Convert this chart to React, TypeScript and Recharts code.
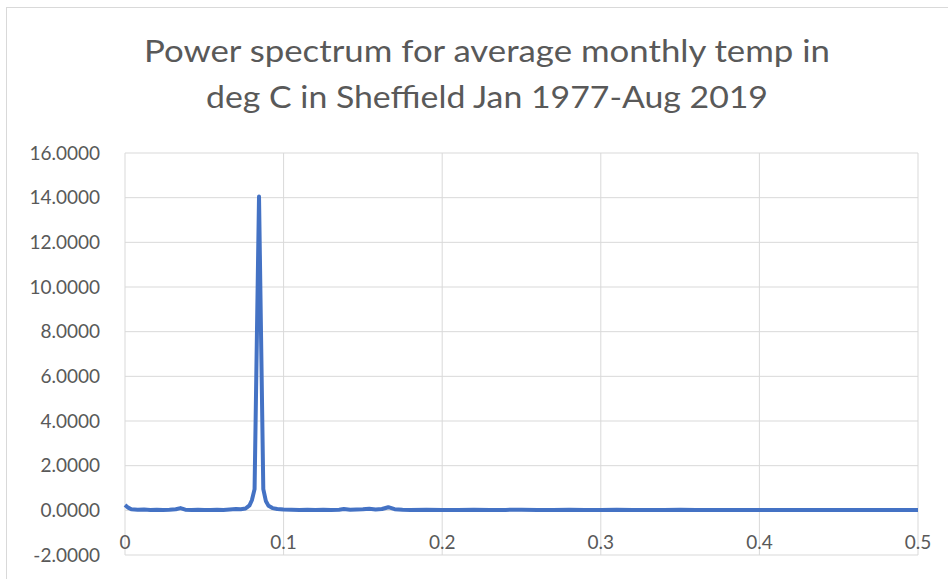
import React from "react";
import { LineChart, Line, XAxis, YAxis, CartesianGrid } from "recharts";

const frequency = [
  0.0, 0.002, 0.004, 0.008, 0.012, 0.016, 0.02, 0.024, 0.028, 0.032, 0.035, 0.038,
  0.042, 0.046, 0.05, 0.054, 0.058, 0.062, 0.066, 0.07, 0.073, 0.076, 0.0785, 0.08,
  0.0817, 0.0845, 0.0872, 0.0888, 0.0905, 0.093, 0.096, 0.1, 0.105, 0.11, 0.115,
  0.12, 0.125, 0.13, 0.135, 0.138, 0.142, 0.146, 0.15, 0.154, 0.158, 0.162, 0.166,
  0.17, 0.175, 0.18, 0.19, 0.2, 0.21, 0.22, 0.23, 0.24, 0.25, 0.26, 0.27, 0.28,
  0.29, 0.3, 0.31, 0.32, 0.33, 0.34, 0.35, 0.36, 0.37, 0.38, 0.39, 0.4, 0.41, 0.42,
  0.43, 0.44, 0.45, 0.46, 0.47, 0.48, 0.49, 0.5,
];

const power = [
  0.24, 0.12, 0.05, 0.03, 0.04, 0.02, 0.03, 0.02, 0.03, 0.05, 0.1, 0.03,
  0.02, 0.03, 0.02, 0.02, 0.03, 0.02, 0.04, 0.06, 0.05, 0.08, 0.22, 0.45,
  0.95, 14.05, 0.95, 0.42, 0.2, 0.1, 0.06, 0.04, 0.03, 0.02, 0.03,
  0.02, 0.03, 0.02, 0.03, 0.06, 0.03, 0.04, 0.05, 0.07, 0.04, 0.06, 0.14,
  0.05, 0.03, 0.02, 0.03, 0.02, 0.02, 0.03, 0.02, 0.02, 0.03, 0.02, 0.02, 0.03,
  0.02, 0.02, 0.03, 0.02, 0.02, 0.02, 0.03, 0.02, 0.02, 0.02, 0.02, 0.02, 0.02, 0.02,
  0.02, 0.02, 0.02, 0.02, 0.02, 0.02, 0.02, 0.02,
];

const xTicks = [0, 0.1, 0.2, 0.3, 0.4, 0.5];
const yTicks = [-2, 0, 2, 4, 6, 8, 10, 12, 14, 16];
const titleLines = [
  "Power spectrum for average monthly temp in",
  "deg C in Sheffield Jan 1977-Aug 2019",
];

const data = frequency.map((f, i) => ({ f, p: power[i] }));

const FONT = "Lato, 'Open Sans', sans-serif";
const TEXT = "#595959";

const XTick = (props: any) => {
  const { x, y, payload } = props;
  return (
    <text x={x} y={y - 6} textAnchor="middle" fill={TEXT} fontSize={19} fontFamily={FONT}>
      {String(payload.value)}
    </text>
  );
};

export default function App() {
  return (
    <div style={{ position: "absolute", left: 0, top: 0, width: 948, height: 579, overflow: "hidden", background: "#fff" }}>
      <div style={{ position: "absolute", left: 6, top: 7, width: 1000, height: 1000, border: "1px solid #d9d9d9", boxSizing: "border-box" }} />
      <div style={{ position: "absolute", left: 0, top: 0 }}>
        <LineChart width={948} height={579} data={data} margin={{ top: 153, right: 30, bottom: 0, left: 0 }}>
          <CartesianGrid stroke="#d9d9d9" strokeWidth={1} />
          <XAxis
            dataKey="f"
            type="number"
            domain={[0, 0.5]}
            ticks={xTicks}
            height={24}
            axisLine={false}
            tickLine={false}
            tickSize={0}
            tickMargin={0}
            tick={<XTick />}
            interval={0}
          />
          <YAxis
            type="number"
            domain={[-2, 16]}
            ticks={yTicks}
            width={125}
            axisLine={false}
            tickLine={false}
            tickSize={0}
            tickMargin={25}
            interval={0}
            tickFormatter={(v: number) => v.toFixed(4)}
            tick={{ fill: TEXT, fontSize: 19, fontFamily: FONT }}
          />
          <Line
            type="linear"
            dataKey="p"
            stroke="#4472C4"
            strokeWidth={4}
            strokeLinejoin="round"
            dot={false}
            isAnimationActive={false}
          />
        </LineChart>
      </div>
      <svg width={948} height={140} style={{ position: "absolute", left: 0, top: 0 }}>
        <text x={487} y={62} textAnchor="middle" fill={TEXT} fontSize={31} fontFamily={FONT} textLength={686} lengthAdjust="spacingAndGlyphs">
          {titleLines[0]}
        </text>
        <text x={487} y={108} textAnchor="middle" fill={TEXT} fontSize={31} fontFamily={FONT} textLength={562} lengthAdjust="spacingAndGlyphs">
          {titleLines[1]}
        </text>
      </svg>
    </div>
  );
}
